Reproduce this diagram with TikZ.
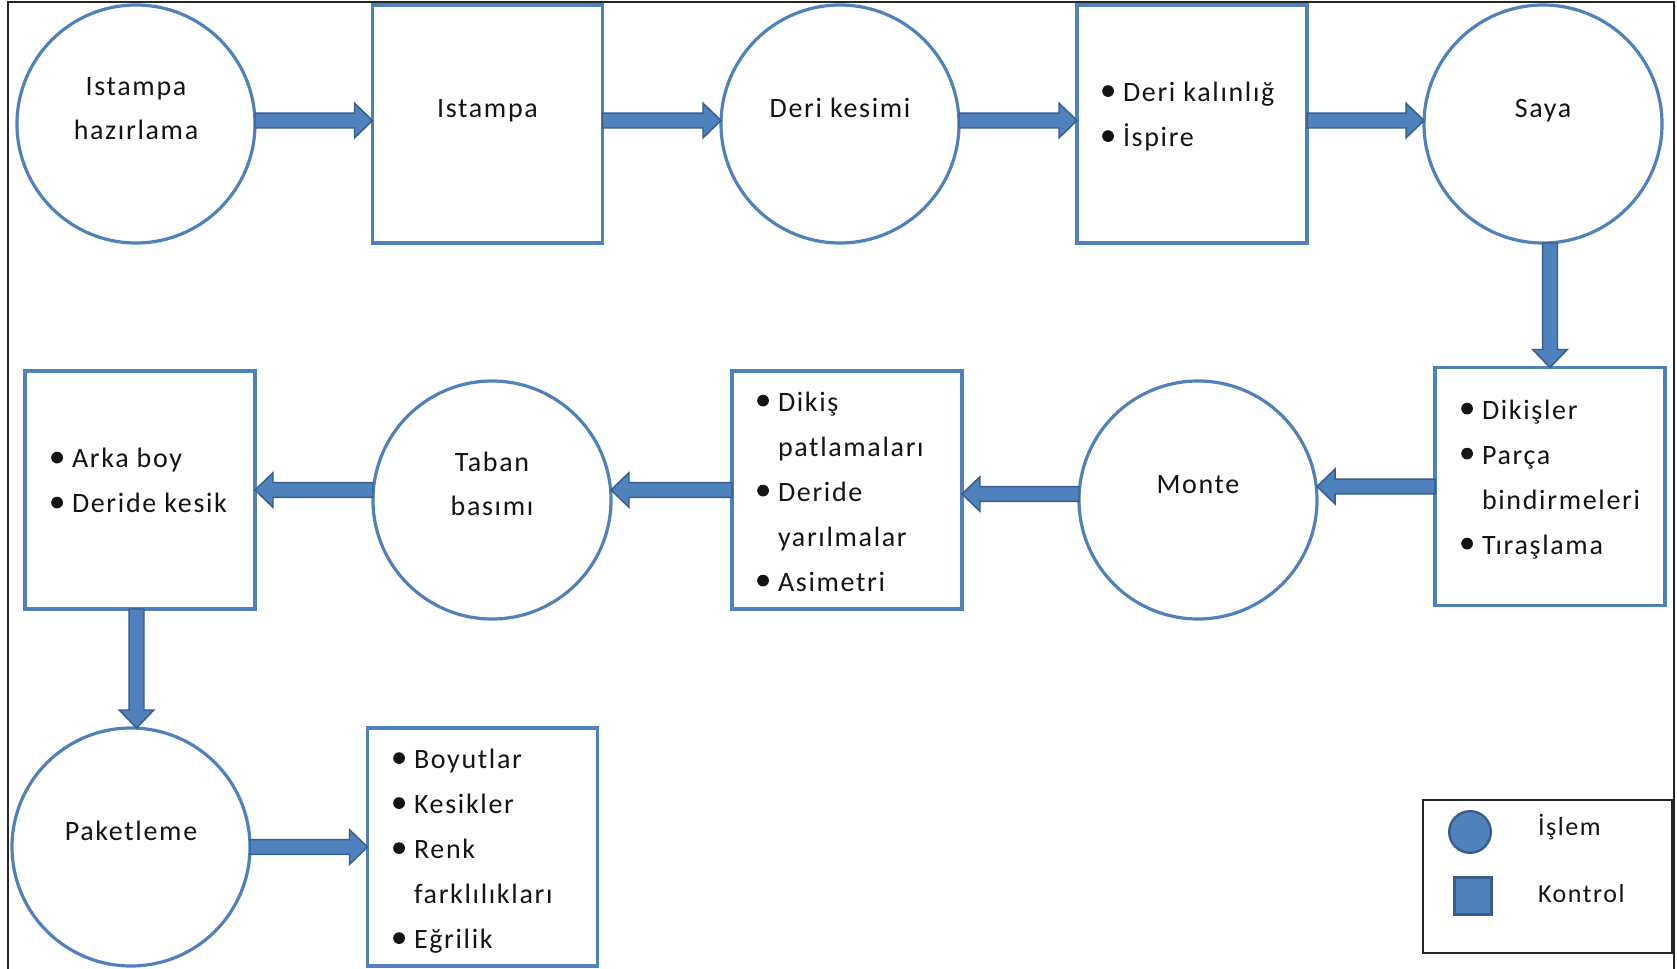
\documentclass[tikz,border=0pt]{standalone}
\usepackage{fontspec}
\setmainfont{Carlito}[LetterSpace=6]
\usetikzlibrary{calc}

\definecolor{shapeblue}{HTML}{4F81BD}
\definecolor{arrowedge}{HTML}{385D8A}
\definecolor{inktext}{HTML}{141414}

% list bullet and list item start
\newcommand\bul{\tikz[baseline=0pt]\fill[inktext] (0pt,7.8pt) circle (4.4pt);}
\newcommand\itm{\strut\llap{\bul\hspace{6.8pt}}}

\begin{document}
\begin{tikzpicture}[x=0.75pt,y=-0.75pt,
  every node/.style={inner sep=0pt, outer sep=0pt},
  proc/.style={circle, draw=shapeblue, line width=2.4pt, fill=white, minimum size=178.5pt},
  ctrl/.style={rectangle, draw=shapeblue, line width=2.4pt, fill=white,
    minimum width=172.5pt, minimum height=178.5pt},
  lbl/.style={font=\fontsize{21}{33}\selectfont, text=inktext, align=center},
  lst/.style={font=\fontsize{21}{33.75}\selectfont, text=inktext, align=left, anchor=west},
  legtxt/.style={font=\fontsize{19.5}{24}\selectfont, text=inktext, anchor=base west},
  blockarrow/.style={draw=arrowedge, fill=shapeblue, line width=1.1pt, line join=miter,
    to path={
      let \p1=(\tikztostart), \p2=(\tikztotarget),
          \n1={atan2(\y2-\y1,\x2-\x1)}, \n2={veclen(\x2-\x1,\y2-\y1)}
      in {[shift={(\p1)}, rotate=\n1]
        (0pt,-5.6pt) -- ({\n2*1pt-13.5pt},-5.6pt) -- ({\n2*1pt-13.5pt},-13pt)
        -- ({\n2*1pt},0pt) -- ({\n2*1pt-13.5pt},13pt) -- ({\n2*1pt-13.5pt},5.6pt)
        -- (0pt,5.6pt) -- cycle}
    }}
]
\useasboundingbox (0,0) rectangle (1677,969);

% outer frame (open at the bottom edge)
\draw[black!85, line width=1.5pt] (7.5,975) -- (7.5,2) -- (1674,2) -- (1674,975);

% first row
\node[proc] (c1) at (136,124) {};
\node[ctrl] (s1) at (487.5,124) {};
\node[proc] (c2) at (840,124) {};
\node[ctrl] (s2) at (1192,124) {};
\node[proc] (c3) at (1543,124) {};

% second row
\node[ctrl] (a1) at (140,490) {};
\node[proc] (c4) at (492,500) {};
\node[ctrl] (a2) at (847,490) {};
\node[proc] (c5) at (1198,500) {};
\node[ctrl] (a3) at (1550,486.5) {};

% third row
\node[proc] (c6) at (131,847) {};
\node[ctrl] (a4) at (482.5,847) {};

% labels of the process steps
\node[lbl] (c1t) at ([yshift=11.25pt]c1.center) {\strut Istampa\\\strut hazırlama};
\node[lbl] (s1t) at ([yshift=11.25pt]s1.center) {\strut Istampa};
\node[lbl] (c2t) at ([yshift=11.25pt]c2.center) {\strut Deri kesimi};
\node[lbl] (c3t) at ([yshift=11.25pt]c3.center) {\strut Saya};
\node[lbl] (c4t) at ([yshift=11.25pt]c4.center) {\strut Taban\\\strut basımı};
\node[lbl] (c5t) at ([yshift=11.25pt]c5.center) {\strut Monte};
\node[lbl] (c6t) at ([yshift=11.25pt]c6.center) {\strut Paketleme};

% control check lists
\node[lst] (s2t) at (1123,115) {\itm Deri kalınlığ\\\itm İspire};
\node[lst] (a3t) at (1482,477.5) {\itm Dikişler\\\itm Parça\\\strut bindirmeleri\\\itm Tıraşlama};
\node[lst] (a2t) at (778,492) {\itm Dikiş\\\strut patlamaları\\\itm Deride\\\strut yarılmalar\\\itm Asimetri};
\node[lst] (a1t) at (72,481.5) {\itm Arka boy\\\itm Deride kesik};
\node[lst] (a4t) at (414,849.5) {\itm Boyutlar\\\itm Kesikler\\\itm Renk\\\strut farklılıkları\\\itm Eğrilik};

% flow arrows
\draw[blockarrow] ([yshift=2.6pt]c1.east) to ([yshift=2.6pt]s1.west);
\draw[blockarrow] ([yshift=2.6pt]s1.east) to ([yshift=2.6pt]c2.west);
\draw[blockarrow] ([yshift=2.6pt]c2.east) to ([yshift=2.6pt]s2.west);
\draw[blockarrow] ([yshift=2.6pt]s2.east) to ([yshift=2.6pt]c3.west);
\draw[blockarrow] (a3.north |- c3.south) to (a3.north);
\draw[blockarrow] (a3.west) to (a3.west -| c5.east);
\draw[blockarrow] ([yshift=-3pt]a2.east -| c5.west) to ([yshift=-3pt]a2.east);
\draw[blockarrow] (a2.west) to (a2.west -| c4.east);
\draw[blockarrow] (a1.east -| c4.west) to (a1.east);
\draw[blockarrow] ([xshift=-2.6pt]a1.south) to ([xshift=-2.6pt]a1.south |- c6.north);
\draw[blockarrow] (c6.east) to (a4.west);

% legend
\node[draw=black!85, line width=1.3pt, minimum width=186.75pt, minimum height=114.75pt] (leg) at (1547.5,876.5) {};
\node[circle, fill=shapeblue, draw=arrowedge, line width=1.8pt, minimum size=31.2pt] (legc) at (1470,832) {};
\node[rectangle, fill=shapeblue, draw=arrowedge, line width=1.8pt, minimum size=27.5pt] (legs) at (1473,896) {};
\node[legtxt] (legct) at (1538,835) {İşlem};
\node[legtxt] (legst) at (1538,902) {Kontrol};
\end{tikzpicture}
\end{document}
